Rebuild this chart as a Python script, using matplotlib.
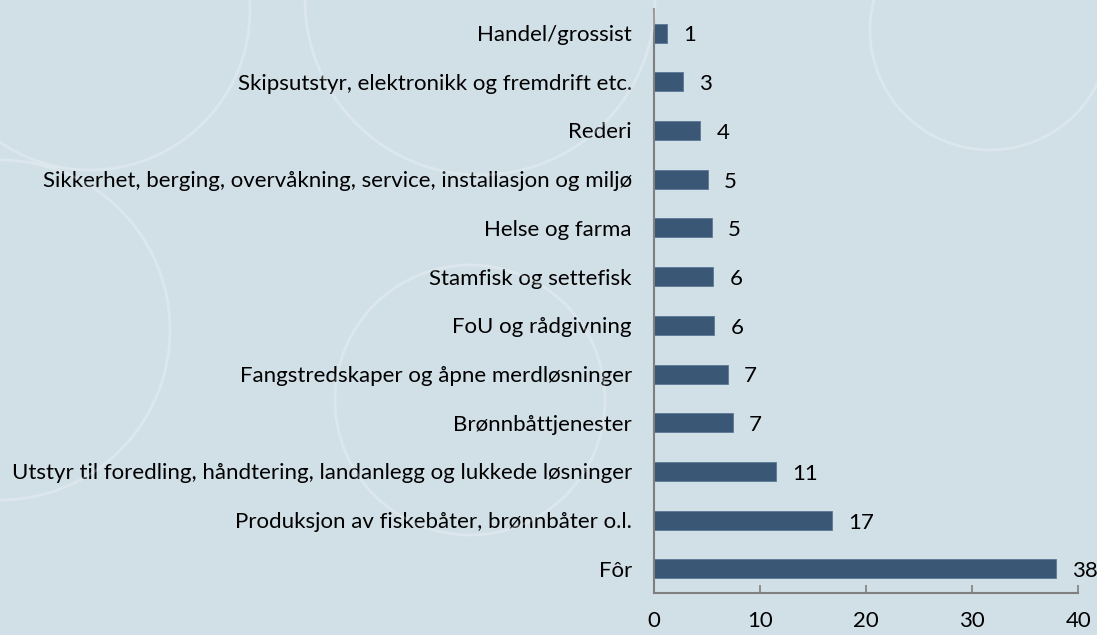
import matplotlib
matplotlib.use("Agg")
import matplotlib.pyplot as plt
from matplotlib.patches import Ellipse

categories = [
    "Handel/grossist",
    "Skipsutstyr, elektronikk og fremdrift etc.",
    "Rederi",
    "Sikkerhet, berging, overvåkning, service, installasjon og miljø",
    "Helse og farma",
    "Stamfisk og settefisk",
    "FoU og rådgivning",
    "Fangstredskaper og åpne merdløsninger",
    "Brønnbåttjenester",
    "Utstyr til foredling, håndtering, landanlegg og lukkede løsninger",
    "Produksjon av fiskebåter, brønnbåter o.l.",
    "Fôr",
]
values = [1.25, 2.77, 4.37, 5.12, 5.44, 5.6, 5.69, 7.0, 7.42, 11.48, 16.8, 37.9]
value_labels = ["1", "3", "4", "5", "5", "6", "6", "7", "7", "11", "17", "38"]
xticks = [0, 10, 20, 30, 40]

plt.rcParams['font.family'] = ['Lato', 'DejaVu Sans']

W, H = 1097, 635
bg = "#d1dfe7"
fig = plt.figure(figsize=(W / 100, H / 100), dpi=100, facecolor=bg)

# faint decorative background circles (imitating the background image)
for cx, cy, r in [(90, 10, 160), (480, 0, 175), (470, 400, 135), (990, 30, 120), (0, 330, 170)]:
    fig.patches.append(Ellipse((cx / W, 1 - cy / H), 2 * r / W, 2 * r / H,
                               transform=fig.transFigure, fill=False, edgecolor="white",
                               alpha=0.25, linewidth=2.0, zorder=0))

ax = fig.add_axes([0.5962, 0.0657, 0.983 - 0.5962, 0.9863 - 0.0657])
ax.set_facecolor("none")

y = list(range(len(categories)))[::-1]
ax.barh(y, values, height=0.39, color="#3b5776", edgecolor="#5b7896", linewidth=0.6)
for yi, v, lab in zip(y, values, value_labels):
    ax.text(v + 1.5, yi - 0.05, lab, va="center", ha="left", fontsize=16, color="black")

ax.set_yticks(y)
ax.set_yticklabels(categories, fontsize=16)
ax.set_ylim(-0.5, len(categories) - 0.5)
ax.set_xlim(0, 40)
ax.set_xticks(xticks)
ax.set_xticklabels([str(t) for t in xticks], fontsize=16)
ax.tick_params(axis="y", length=0, pad=16)
ax.tick_params(axis="x", direction="in", length=5.5, width=1.2, color="#7f7f7f", pad=13)
for s in ["top", "right"]:
    ax.spines[s].set_visible(False)
for s in ["left", "bottom"]:
    ax.spines[s].set_color("#7f7f7f")
    ax.spines[s].set_linewidth(1.5)

fig.savefig("out.png", dpi=100, facecolor=bg)
